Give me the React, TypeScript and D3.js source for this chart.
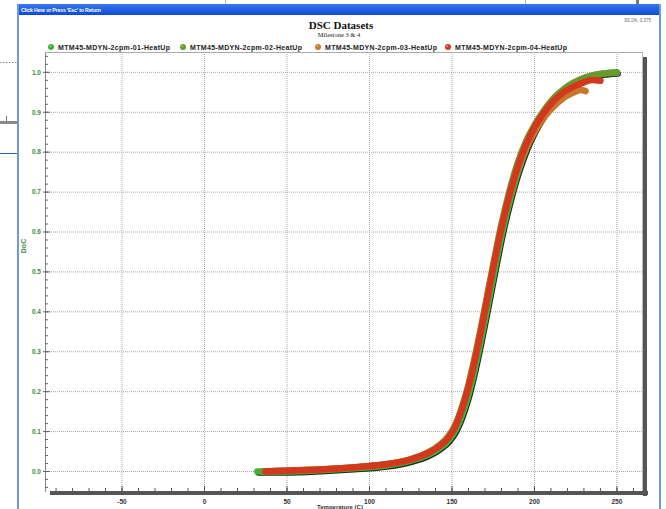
import * as d3 from 'd3'

// Temperature (C) ticks and DoC ticks
const tempTicks = [-50, 0, 50, 100, 150, 200, 250]
const docTicks = [0, 0.1, 0.2, 0.3, 0.4, 0.5, 0.6, 0.7, 0.8, 0.9, 1.0]

const seriesNames = [
  'MTM45-MDYN-2cpm-01-HeatUp',
  'MTM45-MDYN-2cpm-02-HeatUp',
  'MTM45-MDYN-2cpm-03-HeatUp',
  'MTM45-MDYN-2cpm-04-HeatUp',
]
const seriesColors = ['#3cb43a', '#6a9a2c', '#c8782c', '#d2381e']
const legendDot = [51, 183, 318, 448]

// series values
const t01 = [32, 50, 70, 90, 110, 125, 135, 142, 148, 152, 156, 160, 164, 168, 172, 176, 180, 185, 190, 195, 200, 206, 212, 218, 224, 230, 236, 242, 250]
const v01 = [0, 0, 0.003, 0.008, 0.015, 0.027, 0.041, 0.057, 0.078, 0.102, 0.14, 0.192, 0.26, 0.338, 0.422, 0.507, 0.59, 0.677, 0.75, 0.808, 0.853, 0.895, 0.929, 0.953, 0.972, 0.985, 0.993, 0.997, 1.0]

const t02 = [35, 50, 70, 90, 110, 125, 135, 142, 148, 152, 156, 160, 164, 168, 172, 176, 180, 185, 190, 195, 200, 206, 212, 218, 224, 230, 236, 242, 250]
const v02 = [0, 0.002, 0.005, 0.01, 0.018, 0.031, 0.047, 0.065, 0.089, 0.117, 0.161, 0.218, 0.29, 0.37, 0.455, 0.54, 0.62, 0.705, 0.775, 0.828, 0.868, 0.906, 0.937, 0.959, 0.975, 0.986, 0.993, 0.997, 0.999]

const t03 = [37, 50, 70, 90, 110, 125, 135, 142, 148, 152, 156, 160, 164, 168, 172, 176, 180, 185, 190, 195, 200, 206, 212, 218, 224, 228, 231]
const v03 = [0, 0.002, 0.005, 0.01, 0.018, 0.03, 0.046, 0.063, 0.087, 0.114, 0.157, 0.213, 0.283, 0.363, 0.448, 0.532, 0.61, 0.692, 0.758, 0.81, 0.85, 0.888, 0.916, 0.937, 0.95, 0.956, 0.953]

const t04 = [37, 50, 70, 90, 110, 125, 135, 142, 148, 152, 156, 160, 164, 168, 172, 176, 180, 185, 190, 195, 200, 206, 212, 218, 224, 230, 235, 240]
const v04 = [0, 0.002, 0.005, 0.01, 0.018, 0.03, 0.045, 0.062, 0.085, 0.112, 0.155, 0.21, 0.28, 0.36, 0.445, 0.53, 0.61, 0.695, 0.765, 0.82, 0.862, 0.9, 0.93, 0.951, 0.965, 0.975, 0.981, 0.979]

const seriesT = [t01, t02, t03, t04]
const seriesV = [v01, v02, v03, v04]

const W = 666
const H = 509
const plot = { left: 45, top: 52, right: 643, bottom: 492 }

export default function App() {
  const x = d3.scaleLinear().domain([-96.7, 265.8]).range([plot.left, plot.right])
  const y = d3.scaleLinear().domain([-0.0514, 1.051]).range([plot.bottom, plot.top])

  const line = d3.line<[number, number]>()
    .x(d => x(d[0]))
    .y(d => y(d[1]))
    .curve(d3.curveMonotoneX)

  const paths = seriesT.map((ts, i) => line(ts.map((t, j) => [t, seriesV[i][j]] as [number, number])) || '')

  const yMinor = d3.range(-0.04, 1.05, 0.02)
  const xMinor = d3.range(-90, 265, 10)
  const sans = 'Arial, "Liberation Sans", sans-serif'
  const serif = '"Times New Roman", "Liberation Serif", serif'

  return (
    <svg width={W} height={H} style={{ position: 'absolute', left: 0, top: 0, background: '#fff' }}>
      <defs>
        <linearGradient id="bar" x1="0" x2="0" y1="0" y2="1">
          <stop offset="0" stopColor="#3a78ec" />
          <stop offset="1" stopColor="#0a4ad6" />
        </linearGradient>
      </defs>

      {/* background window bits on the left */}
      <line x1={0} x2={17} y1={62.5} y2={62.5} stroke="#888" strokeDasharray="1.5 1.5" />
      <rect x={0} y={121} width={17} height={3} fill="#8a8a8a" />
      <line x1={6.5} x2={6.5} y1={116} y2={121} stroke="#777" />
      <line x1={0} x2={17} y1={153.5} y2={153.5} stroke="#2a5cc4" />
      <line x1={225.5} x2={225.5} y1={0} y2={4} stroke="#bbb" />
      <line x1={525.5} x2={525.5} y1={0} y2={4} stroke="#bbb" />
      <rect x={636} y={0} width={3} height={4} fill="#777" />

      {/* window frame */}
      <rect x={17} y={4} width={644} height={11} fill="url(#bar)" />
      <text x={21} y={11.8} fontFamily={sans} fontSize={5.2} fontWeight="bold" fill="#fff" textLength={80}>
        Click Here or Press 'Esc' to Return
      </text>
      <rect x={17} y={4} width={2} height={H} fill="#6f98e2" />
      <rect x={659} y={4} width={2} height={H} fill="#6f98e2" />

      {/* titles */}
      <text x={341} y={29} textAnchor="middle" fontFamily={serif} fontWeight="bold" fontSize={11} fill="#111">DSC Datasets</text>
      <text x={339} y={36.5} textAnchor="middle" fontFamily={serif} fontSize={6.5} fill="#222">Milestone 3 &amp; 4</text>
      <text x={651} y={22} textAnchor="end" fontFamily={sans} fontSize={4.5} fill="#666">83.1%, 0.375</text>

      {/* legend */}
      {seriesNames.map((n, i) => (
        <g key={n}>
          <circle cx={legendDot[i]} cy={47} r={3} fill={seriesColors[i]} />
          <circle cx={legendDot[i] - 0.8} cy={46.2} r={1} fill="#fff" opacity={0.4} />
          <text x={legendDot[i] + 7} y={49.5} fontFamily={sans} fontSize={7} fontWeight="bold" fill="#222" textLength={112}>{n}</text>
        </g>
      ))}

      {/* grid */}
      {tempTicks.map(t => (
        <line key={'gx' + t} x1={x(t)} x2={x(t)} y1={plot.top} y2={plot.bottom} stroke="#a8a8a8" strokeDasharray="1 1" />
      ))}
      {docTicks.map(v => (
        <line key={'gy' + v} x1={plot.left} x2={plot.right} y1={y(v)} y2={y(v)} stroke="#a8a8a8" strokeDasharray="1 1" />
      ))}

      {/* frame and shadow */}
      <line x1={plot.left + 0.5} x2={plot.left + 0.5} y1={plot.top} y2={plot.bottom} stroke="#888" />
      <line x1={plot.left} x2={plot.right} y1={plot.top + 0.5} y2={plot.top + 0.5} stroke="#aaa" />
      <line x1={plot.right - 0.5} x2={plot.right - 0.5} y1={plot.top} y2={plot.bottom} stroke="#bbb" />
      <rect x={plot.right} y={plot.top + 5} width={4} height={plot.bottom - plot.top - 1} fill="#555" />
      <rect x={plot.left + 5} y={plot.bottom - 1} width={plot.right - plot.left} height={4} fill="#555" />

      {/* y ticks */}
      {yMinor.map(v => (
        <line key={'ym' + v} x1={plot.left} x2={plot.left + 3} y1={y(v)} y2={y(v)} stroke="#666" />
      ))}
      {docTicks.map(v => (
        <g key={'yt' + v}>
          <line x1={plot.left - 2} x2={plot.left + 5} y1={y(v)} y2={y(v)} stroke="#666" />
          <text x={plot.left - 4} y={y(v) + 2.3} textAnchor="end" fontFamily={sans} fontSize={6.5} fontWeight="bold" fill="#3c8c3c">{v.toFixed(1)}</text>
        </g>
      ))}

      {/* x ticks */}
      {xMinor.map(t => (
        <line key={'xm' + t} x1={x(t)} x2={x(t)} y1={plot.bottom - 1} y2={plot.bottom - 4} stroke="#555" />
      ))}
      {tempTicks.map(t => (
        <g key={'xt' + t}>
          <line x1={x(t)} x2={x(t)} y1={plot.bottom + 2} y2={plot.bottom - 6} stroke="#555" />
          <text x={x(t)} y={503.5} textAnchor="middle" fontFamily={sans} fontSize={6.5} fontWeight="bold" fill="#333">{t}</text>
        </g>
      ))}

      {/* axis titles */}
      <text transform="translate(26,246) rotate(-90)" textAnchor="middle" fontFamily={sans} fontSize={7} fontWeight="bold" fill="#3c8c3c">DoC</text>
      <text x={340} y={508.5} textAnchor="middle" fontFamily={sans} fontSize={6} fontWeight="bold" fill="#333">Temperature (C)</text>

      {/* curves */}
      <path d={paths[0]} fill="none" stroke="#1d2e1a" strokeWidth={6} strokeLinecap="round" strokeLinejoin="round" transform="translate(1,1.3)" />
      {paths.map((p, i) => (
        <path key={'s' + i} d={p} fill="none" stroke={seriesColors[i]} strokeWidth={6.5} strokeLinecap="round" strokeLinejoin="round" />
      ))}
    </svg>
  )
}
